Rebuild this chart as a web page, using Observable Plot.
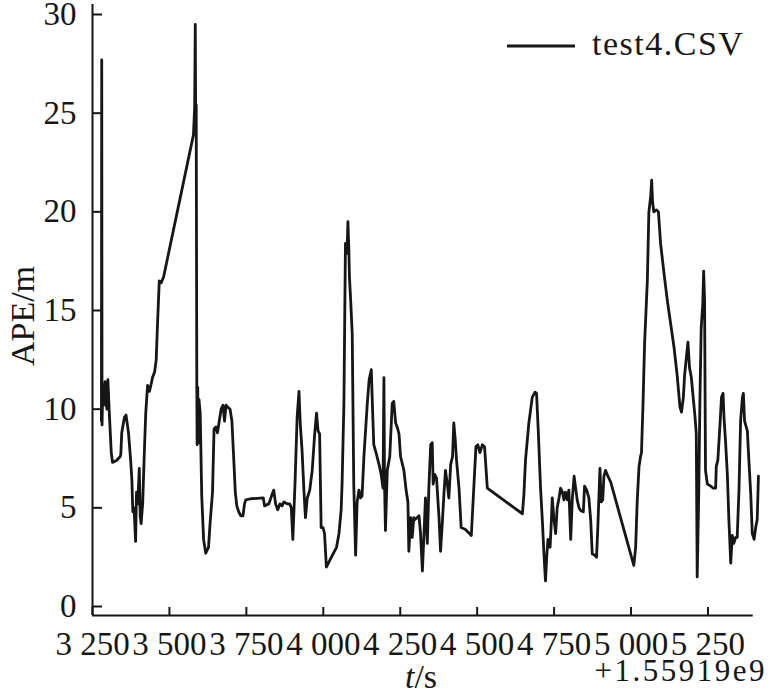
<!DOCTYPE html>
<html><head><meta charset="utf-8">
<script src="https://cdn.jsdelivr.net/npm/d3@7"></script>
<script src="https://cdn.jsdelivr.net/npm/@observablehq/plot@0.6"></script>
<style>
body{margin:0;background:#fff}
svg, svg text, svg tspan{font-family:"Liberation Serif","Times New Roman",serif !important;font-variant:normal !important}
</style>
</head><body><div id="chart"></div>
<script>
// time offsets (s), relative to +1.55919e9
const times = [3279,3280,3281,3283,3286,3288,3291,3294,3297,3300,3304,3311,3315,3328,3340,3342,3345,3354,3359,3367,3374,3378,3381,3385,3390,3393,3397,3402,3405,3408,3413,3418,3423,3429,3435,3441,3445,3452,3457,3461,3467,3473,3481,3578,3582,3584,3585,3587,3589,3590,3592,3594,3596,3600,3605,3611,3618,3627,3632,3640,3645,3651,3656,3662,3668,3674,3679,3684,3690,3697,3703,3708,3714,3719,3725,3732,3739,3744,3748,
3764,3805,3809,3823,3834,3839,3845,3852,3859,3866,3872,3883,3891,3896,3901,3908,3915,3921,3925,3931,3937,3942,3948,3956,3964,3972,3978,3983,3988,3993,3999,4004,4010,4023,4043,4051,4058,4061,4067,4072,4077,4080,4083,4085,4089,4094,4099,4105,4110,4116,4121,4126,4132,4143,4149,4156,4159,4164,4173,4181,4188,4194,4197,4199,4202,4208,4216,4224,4229,4235,4240,4246,4251,4262,4269,4275,4278,4284,4289,4294,
4297,4305,4311,4316,4322,4327,4332,4338,4343,4349,4354,4357,4362,4368,4376,4381,4387,4392,4397,4403,4408,4414,4420,4424,4429,4433,4441,4448,4462,4481,4489,4496,4502,4509,4517,4524,4533,4647,4652,4657,4668,4679,4688,4693,4699,4706,4712,4717,4722,4726,4730,4737,4741,4744,4749,4755,4760,4766,4771,4777,4782,4787,4793,4798,4804,4809,4815,4820,4825,4831,
4836,4845,4849,4856,4863,4869,4874,4882,4888,4892,4896,4899,4903,4908,4912,4917,4925,4934,5009,5015,5020,5026,5031,5034,5039,5044,5053,5058,5064,5067,5070,5074,5083,5089,5096,5107,5118,5129,5140,5150,5159,5164,5170,5174,5181,5185,5190,5196,5202,5208,5212,5215,5220,5224,5228,5233,5236,5239,5242,5248,5259,5267,5275,5277,5282,5289,5294,5299,5302,5307,5313,5318,5324,5329,5334,5340,5345,5351,5356,5362,5365,5369,5378,5383,5389,5394,5400,5405,5410,5414];
// APE values (m)
const apeValues = [9.4,27.7,9.2,10.8,10.2,11.0,11.4,10.3,10.0,11.5,10.0,7.8,7.3,7.4,7.6,7.7,8.8,9.6,9.7,8.8,7.4,6.4,4.8,5.0,3.3,5.8,5.2,7.0,4.6,4.2,5.2,7.6,9.8,11.2,10.9,11.3,11.6,11.9,12.5,14.2,16.5,16.4,16.7,23.9,25.3,29.5,25.5,25.4,11.0,8.2,11.1,8.3,10.5,9.8,5.6,3.4,2.7,3.0,4.2,5.8,9.0,9.1,8.8,9.4,10.0,10.2,9.4,10.2,10.1,10.0,9.4,7.8,5.8,5.1,4.8,4.6,4.6,5.2,5.4,
5.46,5.5,5.1,5.2,5.7,5.9,5.2,4.9,5.2,5.1,5.3,5.2,5.2,5.0,3.4,6.2,9.6,10.9,9.3,7.9,5.9,4.5,5.5,5.9,6.9,8.75,9.8,8.9,8.75,4.0,4.0,3.7,2.0,2.4,3.0,3.7,4.9,6.2,10.3,18.4,17.9,19.5,18.1,16.7,15.5,13.8,6.2,2.6,5.3,5.9,5.5,5.6,7.6,10.3,11.5,12.0,10.5,8.2,7.7,7.2,6.7,6.0,11.6,6.2,3.85,6.9,7.6,10.3,10.4,9.3,9.1,8.75,7.6,6.9,5.9,5.3,2.8,4.5,3.5,4.5,
4.4,4.5,4.6,3.7,1.8,3.6,5.5,3.2,6.0,8.2,8.3,6.2,6.7,6.5,4.5,2.8,4.3,5.7,6.9,6.2,5.5,7.2,7.6,9.3,8.4,7.4,6.0,4.0,3.9,3.6,6.0,8.1,8.2,7.8,8.2,8.1,6.0,4.7,5.7,7.4,9.3,10.6,10.86,10.8,8.75,6.0,4.3,2.67,1.3,2.5,3.4,3.0,4.3,5.5,4.5,3.7,5.0,5.5,6.0,5.8,5.4,5.8,5.4,5.9,3.4,5.4,6.6,6.0,5.4,5.0,
4.87,4.8,6.1,5.9,5.5,4.36,2.67,2.6,2.5,4.0,5.7,7.0,5.3,5.4,6.6,6.9,6.6,6.3,2.08,3.0,5.3,7.1,7.6,7.8,10.3,13.3,16.5,20.0,20.8,21.6,20.5,20.0,20.1,20.0,18.4,16.9,15.5,14.3,13.1,11.7,10.1,9.85,10.6,11.7,12.8,13.4,12.1,11.6,10.6,9.6,8.75,1.5,5.7,10.6,14.1,15.3,17.0,15.5,6.9,6.2,6.1,6.0,6.0,7.1,7.4,9.2,10.6,10.8,9.6,8.4,6.7,4.4,2.2,3.6,3.2,3.5,3.5,6.0,9.4,10.6,10.8,9.4,8.9,7.4,5.7,3.7,3.4,4.0,4.4,6.6];
const xTicks = [3250,3500,3750,4000,4250,4500,4750,5000,5250];
const yTicks = [0,5,10,15,20,25,30];
const seriesName = "test4.CSV";
const xLabelItalic = "t";
const xLabelRest = "/s";
const yLabel = "APE/m";
const offsetLabel = "+1.55919e9";

const data = times.map((t, i) => ({t, ape: apeValues[i]}));
const ink = "#161616";
const serif = "'Liberation Serif', 'Times New Roman', serif";
const fmt = d => d3.format(",")(d).replace(",", " ");

const plot = Plot.plot({
  width: 771, height: 696,
  marginLeft: 92, marginRight: 18.3, marginTop: 4, marginBottom: 81,
  style: {fontFamily: serif, fontSize: "33px", color: ink, background: "white", overflow: "visible"},
  x: {domain: [3250, 5397]},
  y: {domain: [-0.456, 30.507]},
  marks: [
    Plot.axisX({ticks: xTicks, tickSize: -8, tickPadding: 24, tickFormat: fmt, label: null, strokeWidth: 2, fontFamily: serif}),
    Plot.axisY({ticks: yTicks, tickSize: -10, tickPadding: 26, label: null, strokeWidth: 2, fontFamily: serif}),
    Plot.ruleX([3250], {stroke: ink, strokeWidth: 2}),
    Plot.ruleY([-0.456], {stroke: ink, strokeWidth: 2}),
    Plot.line(data, {x: "t", y: "ape", stroke: ink, strokeWidth: 2.8, strokeLinejoin: "round"})
  ]
});
document.getElementById("chart").appendChild(plot);

const svg = d3.select(plot);
svg.append("text")
  .attr("transform", "translate(22,316) rotate(-90)")
  .attr("text-anchor", "middle").attr("dominant-baseline", "central")
  .attr("font-size", 34).attr("fill", ink).text(yLabel);
const xl = svg.append("text").attr("x", 421).attr("y", 688)
  .attr("text-anchor", "middle").attr("font-size", 34).attr("fill", ink);
xl.append("tspan").attr("font-style", "italic").text(xLabelItalic);
xl.append("tspan").text(xLabelRest);
svg.append("text").attr("x", 767).attr("y", 681).attr("text-anchor", "end")
  .attr("font-size", 31).attr("letter-spacing", "2.5px").attr("fill", ink).text(offsetLabel);
svg.append("line").attr("x1", 507).attr("x2", 575).attr("y1", 46).attr("y2", 46)
  .attr("stroke", ink).attr("stroke-width", 2.8);
svg.append("text").attr("x", 592).attr("y", 55).attr("font-size", 34).attr("text-anchor", "start")
  .attr("letter-spacing", "1.5px").attr("fill", ink).text(seriesName);
svg.selectAll("text").attr("font-family", serif).style("font-family", serif);
</script>
</body></html>
